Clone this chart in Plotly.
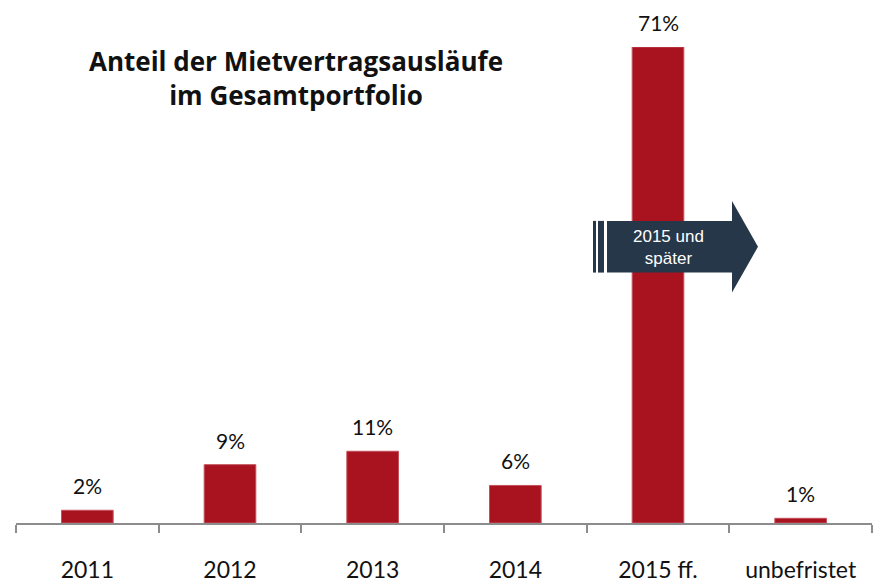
import plotly.graph_objects as go

categories = ["2011", "2012", "2013", "2014", "2015 ff.", "unbefristet"]
values = [1.9, 8.7, 10.7, 5.6, 71, 0.7]
labels = ["2%", "9%", "11%", "6%", "71%", "1%"]

BAR = "#A8131F"
NAVY = "#27374A"
W, H = 875, 586
L, R, T, B = 16, 3, 47, 60
pw, ph = W - L - R, H - T - B

def px(x):
    return (x - L) / pw

def py(y):
    return 1 - (y - T) / ph

fig = go.Figure()
fig.add_trace(go.Bar(
    x=categories, y=values,
    marker=dict(color=BAR, line=dict(width=1, color="#C4505C")),
    width=0.362, hoverinfo="skip",
))

for i, (v, t) in enumerate(zip(values, labels)):
    fig.add_annotation(x=i, y=v, text=t, showarrow=False, yanchor="bottom",
                       xanchor="center", yshift=10,
                       font=dict(family="Lato", size=21, color="#111111"))

# arrow shape
pts = [(607, 222), (732, 222), (732, 202), (758, 248), (732, 294), (732, 274), (607, 274)]
path = "M " + " L ".join(f"{px(x)},{py(y)}" for x, y in pts) + " Z"
fig.add_shape(type="path", path=path, xref="paper", yref="paper",
              fillcolor=NAVY, line=dict(width=0), layer="above")
for x0, x1 in [(593, 596), (598, 604)]:
    fig.add_shape(type="rect", xref="paper", yref="paper",
                  x0=px(x0), x1=px(x1), y0=py(274), y1=py(222),
                  fillcolor=NAVY, line=dict(width=0), layer="above")
fig.add_annotation(xref="paper", yref="paper", x=px(668), y=py(249),
                   xanchor="center", yanchor="middle",
                   text="2015 und<br>später", showarrow=False,
                   font=dict(family="Liberation Sans", size=17, color="white"),
                   align="center")

fig.add_annotation(xref="paper", yref="paper", x=px(296), y=py(78),
                   xanchor="center", yanchor="middle",
                   text="<b>Anteil der Mietvertragsausläufe<br>im Gesamtportfolio</b>",
                   showarrow=False, align="center",
                   font=dict(family="Open Sans", size=26, color="#111111"))

fig.update_layout(
    width=W, height=H, margin=dict(l=L, r=R, t=T, b=B),
    paper_bgcolor="white", plot_bgcolor="white", showlegend=False,
    xaxis=dict(type="category", showline=True, linecolor="#8c8c8c", linewidth=1.5,
               ticks="outside", tickson="boundaries", ticklen=8, tickcolor="#8c8c8c",
               tickwidth=1.5, showgrid=False, ticklabelstandoff=26,
               tickfont=dict(family="Lato", size=23, color="#111111"),
               range=[-0.5, 5.5]),
    yaxis=dict(visible=False, range=[0, 71], showgrid=False, zeroline=False),
)

fig.write_html("out.html", config={"displayModeBar": False},
               post_script="document.body.style.margin='0px';")
